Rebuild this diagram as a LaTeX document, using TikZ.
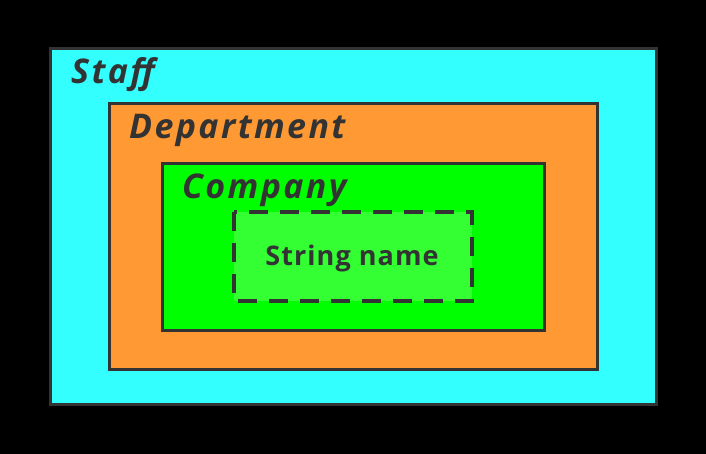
\documentclass[tikz,border=0pt]{standalone}
\usepackage{fontspec}
\setmainfont{Open Sans}
\definecolor{cstaff}{HTML}{33FFFF}
\definecolor{cdept}{HTML}{FF9933}
\definecolor{ccomp}{HTML}{00FF00}
\definecolor{cstr}{HTML}{33FF33}
\definecolor{cline}{HTML}{333333}
\begin{document}
\begin{tikzpicture}[x=1pt,y=-1pt,
  boxst/.style={draw=cline,line width=3pt},
  lbl/.style={anchor=base west,inner sep=0pt,text=cline,font=\fontsize{34}{38}\selectfont\bfseries\itshape\addfontfeatures{LetterSpace=7}}]
\fill[black] (0,0) rectangle (706,454);
\useasboundingbox (0,0) rectangle (706,454);
\path[boxst,fill=cstaff] (50,49) rectangle (656,404);
\path[boxst,fill=cdept] (109,104) rectangle (597,369);
\path[boxst,fill=ccomp] (162,164) rectangle (544,330);
\path[draw=cline,line width=3.5pt,fill=cstr,dash pattern=on 19pt off 12pt] (234,212) rectangle (472,301);
\node[lbl] (staff) at (71,84) {Staff};
\node[lbl] (dept) at (129,139) {Department};
\node[lbl] (comp) at (182,199) {Company};
\node[inner sep=0pt,text=cline,font=\fontsize{27}{30}\selectfont\bfseries\addfontfeatures{LetterSpace=4}] (str) at (352,258) {String name};
\end{tikzpicture}
\end{document}
